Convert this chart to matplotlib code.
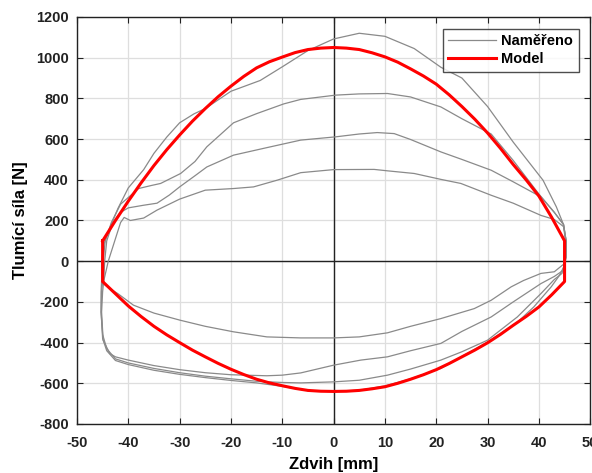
import numpy as np
import matplotlib.pyplot as plt

plt.rcParams['font.family'] = ['Liberation Sans', 'DejaVu Sans']
plt.rcParams['font.weight'] = 'bold'
plt.rcParams['axes.unicode_minus'] = False

# measured loops: upper branch left -> right, lower branch right -> left
a_up_x = [-45.2, -45.2, -44.8, -43.5, -42.0, -40.0, -37.0, -35.0, -32.5, -30.0, -27.2, -25.0, -20.0, -14.3,
          -10.0, -5.0, 0.0, 5.0, 10.0, 15.7, 20.9, 25.0, 30.0, 35.0, 40.8, 43.4, 44.8, 45.3, 45.3]
a_up_y = [-100, 0, 80, 169, 260, 360, 450, 530, 610, 680, 724, 750, 835, 888,
          955, 1035, 1092, 1120, 1105, 1045, 953, 900, 760, 585, 398, 267, 180, 100, 20]
a_lo_x = [45.3, 45.0, 44.0, 42.4, 39.0, 35.8, 30.0, 25.0, 20.9, 15.0, 10.0, 5.0, 0.0, -5.0, -10.0, -15.0,
          -20.0, -25.0, -30.0, -35.0, -40.0, -42.5, -44.2, -45.0, -45.3, -45.3, -45.2]
a_lo_y = [20, -20, -70, -126, -225, -300, -398, -468, -527, -578, -613, -634, -640, -636, -615, -598,
          -586, -572, -556, -536, -508, -488, -440, -380, -250, -150, -100]

b_up_x = [-45.0, -44.9, -44.5, -43.3, -41.5, -38.0, -35.5, -33.7, -29.8, -27.0, -24.7, -19.5, -15.0, -9.7,
          -6.4, 0.4, 5.0, 10.5, 15.0, 20.9, 25.0, 30.7, 35.0, 40.0, 43.0, 44.8, 45.3, 45.3]
b_up_y = [-100, 0, 100, 190, 280, 357, 372, 382, 431, 490, 562, 680, 725, 773,
          795, 816, 822, 824, 807, 758, 700, 625, 495, 330, 240, 180, 100, 20]
b_lo_x = [45.3, 44.5, 43.0, 40.4, 35.8, 30.0, 25.0, 20.9, 15.0, 10.5, 5.0, 0.0, -6.4, -10.0, -15.0, -20.0,
          -25.0, -30.0, -35.0, -40.0, -42.5, -44.2, -45.0, -45.3, -45.2, -45.0]
b_lo_y = [20, -60, -90, -159, -274, -388, -445, -486, -530, -560, -585, -593, -598, -596, -590, -578,
          -565, -548, -527, -500, -480, -430, -360, -250, -150, -100]

c_up_x = [-44.8, -44.6, -44.2, -43.0, -41.5, -40.0, -37.0, -34.4, -32.0, -30.0, -27.0, -24.7, -19.5, -13.0,
          -6.4, 0.4, 5.0, 8.5, 11.8, 15.0, 20.9, 25.0, 30.7, 35.0, 40.4, 43.0, 44.8, 45.3, 45.2]
c_up_y = [-100, 0, 100, 190, 240, 262, 275, 285, 325, 365, 420, 463, 521, 558,
          595, 611, 625, 632, 627, 598, 537, 500, 447, 390, 316, 240, 180, 100, 20]
c_lo_x = [45.2, 44.8, 43.0, 40.4, 35.0, 30.7, 25.0, 20.9, 15.0, 10.5, 5.3, 0.0, -6.4, -10.0, -13.0, -20.0,
          -25.0, -30.0, -35.0, -40.0, -42.5, -43.6, -44.9, -45.2, -45.0, -44.8]
c_lo_y = [20, -44, -75, -110, -200, -274, -345, -404, -440, -470, -486, -511, -549, -560, -563, -558,
          -548, -533, -513, -486, -470, -454, -388, -250, -150, -100]

d_up_x = [-44.9, -43.9, -42.6, -41.5, -40.8, -39.6, -37.0, -34.4, -30.0, -25.0, -19.5, -15.6, -11.0, -6.4,
          0.0, 7.9, 10.5, 15.7, 20.9, 24.8, 30.7, 35.0, 40.4, 43.0, 44.8, 45.2, 45.2]
d_up_y = [-110, 0, 103, 190, 215, 200, 212, 251, 305, 349, 357, 365, 398, 435,
          450, 451, 444, 431, 402, 382, 324, 285, 225, 205, 170, 100, 60]
d_lo_x = [45.2, 45.0, 43.0, 40.4, 37.0, 34.6, 30.7, 27.4, 20.9, 15.0, 10.5, 5.0, 0.0, -6.4, -13.0, -19.5,
          -25.0, -29.9, -35.0, -39.0, -42.0, -43.6, -44.9]
d_lo_y = [60, -11, -52, -60, -95, -126, -192, -233, -282, -320, -352, -372, -377, -377, -372, -347,
          -320, -290, -255, -216, -160, -134, -110]

loops = [(a_up_x, a_up_y, a_lo_x, a_lo_y),
         (b_up_x, b_up_y, b_lo_x, b_lo_y),
         (c_up_x, c_up_y, c_lo_x, c_lo_y),
         (d_up_x, d_up_y, d_lo_x, d_lo_y)]

# model: upper (rebound) and lower (compression) branch
model_x = [-45, -42.5, -40, -37.5, -35, -32.5, -30, -27.5, -25, -22.5, -20, -17.5, -15, -12.5, -10, -7.5,
           -5, -2.5, 0, 2.5, 5, 7.5, 10, 12.5, 15, 17.5, 20, 22.5, 25, 27.5, 30, 32.5, 35, 37.5, 40,
           42.5, 45]
model_up = [100, 200, 295, 385, 470, 548, 620, 688, 750, 808, 860, 908, 950, 980, 1003, 1025,
            1040, 1047, 1050, 1047, 1040, 1024, 1004, 978, 945, 910, 870, 818, 760, 698, 630, 555, 475, 400, 320,
            215, 100]
model_lo = [-100, -160, -220, -272, -320, -362, -400, -437, -470, -502, -531, -557, -580, -598, -612, -625,
            -635, -639, -640, -639, -635, -627, -617, -600, -580, -558, -533, -503, -470, -437, -401, -360, -315,
            -272, -225, -165, -100]

fig = plt.figure(figsize=(5.92, 4.73), dpi=100)
ax = fig.add_axes([0.130, 0.1036, 0.867, 0.8605])

ax.axhline(0, color='#222222', lw=1.0, zorder=1.5)
ax.axvline(0, color='#222222', lw=1.0, zorder=1.5)

for i, (ux, uy, lx, ly) in enumerate(loops):
    xs = np.concatenate([ux, lx, ux[:1]])
    ys = np.concatenate([uy, ly, uy[:1]])
    ax.plot(xs, ys, color='#8a8a8a', lw=0.9, zorder=2,
            label='Naměřeno' if i == 0 else None)

mx = np.concatenate([model_x, model_x[::-1], model_x[:1]])
my = np.concatenate([model_up, model_lo[::-1], model_up[:1]])
ax.plot(mx, my, color='#ff0000', lw=2.2, zorder=3, label='Model')

ax.set_xlim(-50, 50)
ax.set_ylim(-800, 1200)
ax.set_xticks(np.arange(-50, 51, 10))
ax.set_yticks(np.arange(-800, 1201, 200))
ax.grid(True, color='#dedede', lw=0.9)
ax.set_axisbelow(True)
ax.tick_params(direction='in', top=True, right=True, length=4, width=0.8,
               labelsize=10.5, colors='#222222')
ax.tick_params(axis='x', pad=9)
ax.tick_params(axis='y', pad=6)
for lab in ax.get_xticklabels() + ax.get_yticklabels():
    lab.set_fontweight('bold')
for sp in ax.spines.values():
    sp.set_color('#222222')
    sp.set_linewidth(1.0)

ax.set_xlabel('Zdvih [mm]', fontsize=12, fontweight='bold', labelpad=5)
ax.set_ylabel('Tlumící síla [N]', fontsize=12, fontweight='bold', labelpad=6)

leg = ax.legend(loc='upper right', fontsize=10.5, frameon=True, fancybox=False,
                handlelength=3.3, handletextpad=0.3, borderaxespad=0.8,
                borderpad=0.4, labelspacing=0.25)
leg.get_frame().set_edgecolor('#222222')
leg.get_frame().set_linewidth(1.0)
for t in leg.get_texts():
    t.set_fontweight('bold')

fig.savefig('out.png', dpi=100)
